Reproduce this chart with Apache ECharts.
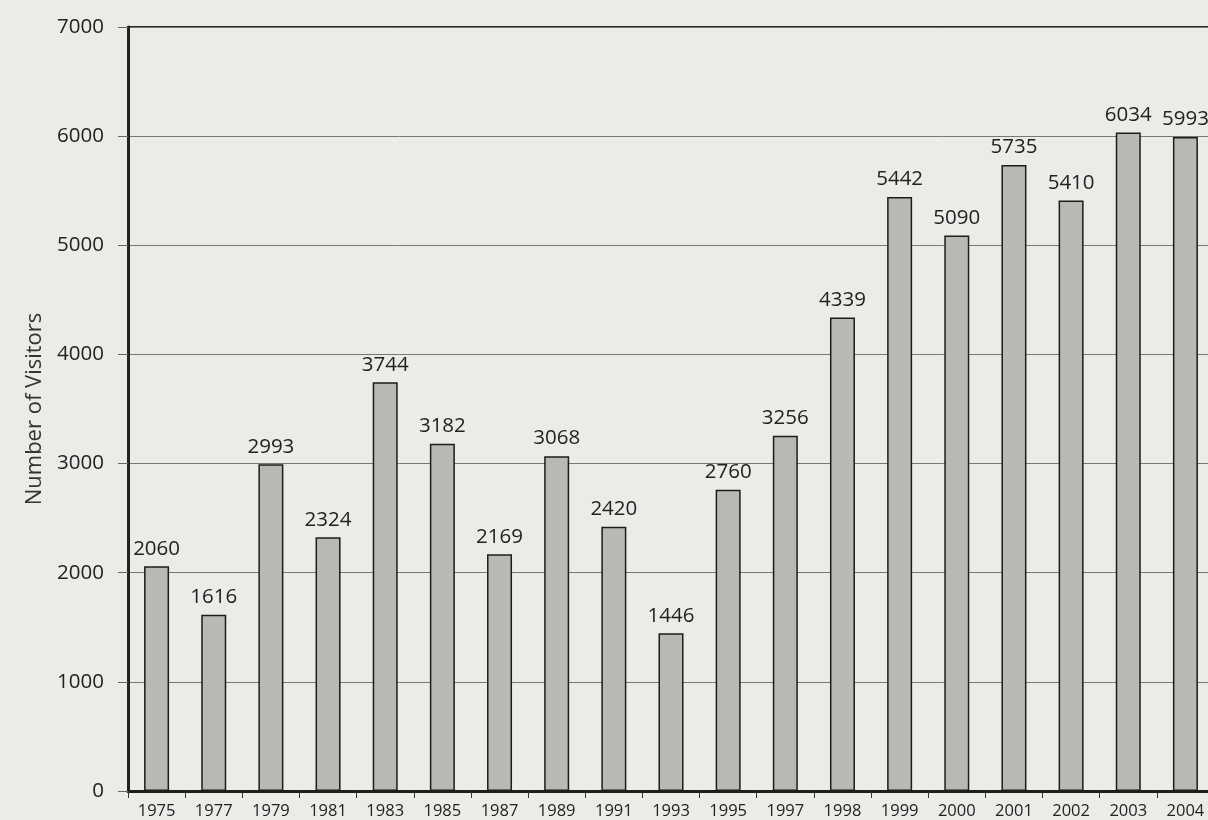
<!DOCTYPE html>
<html><head><meta charset="utf-8">
<script src="https://cdn.jsdelivr.net/npm/echarts@6/dist/echarts.min.js"></script>
<style>html,body{margin:0;padding:0;background:#ecebe8;overflow:hidden;}#c{width:1215px;height:820px;}</style>
</head><body><div id="c"></div>
<script>
const years = ['1975','1977','1979','1981','1983','1985','1987','1989','1991','1993','1995','1997','1998','1999','2000','2001','2002','2003','2004'];
const visitors = [2060,1616,2993,2324,3744,3182,2169,3068,2420,1446,2760,3256,4339,5442,5090,5735,5410,6034,5993];
const yTicks = [0,1000,2000,3000,4000,5000,6000,7000];
const yTitle = 'Number of Visitors';

const chart = echarts.init(document.getElementById('c'));
chart.setOption({
  backgroundColor: '#ecebe8',
  animation: false,
  grid: {left:128, right:1, top:27, bottom:29, show:true, borderColor:'#2a2a2a', borderWidth:2, backgroundColor:'transparent'},
  xAxis: {
    type:'category', data: years,
    axisLine:{show:true, lineStyle:{color:'#1e1e1e', width:3}},
    axisTick:{show:true, alignWithLabel:false, length:7, lineStyle:{color:'#333', width:1}},
    axisLabel:{color:'#222', fontFamily:'Open Sans', fontSize:16.5, margin:12}
  },
  yAxis: {
    type:'value', min:0, max:7000, interval:1000,
    name: yTitle, nameLocation:'middle', nameGap:74, nameRotate:90,
    nameTextStyle:{color:'#333', fontFamily:'Open Sans', fontSize:22},
    axisLine:{show:true, lineStyle:{color:'#222', width:3}},
    axisTick:{show:true, length:10, lineStyle:{color:'#666', width:1}},
    axisLabel:{color:'#222', fontFamily:'Open Sans', fontSize:20.5, margin:24,
      formatter: v => yTicks.includes(v) ? String(v) : ''},
    splitLine:{show:true, lineStyle:{color:'#777', width:1}}
  },
  series: [{
    type:'bar', data: visitors, barWidth:25,
    itemStyle:{color:'#b9b8b3', borderColor:'#1c1c1c', borderWidth:1.5},
    label:{show:true, position:'top', distance:7, color:'#222', fontFamily:'Open Sans', fontSize:20.5}
  }]
});
</script></body></html>
